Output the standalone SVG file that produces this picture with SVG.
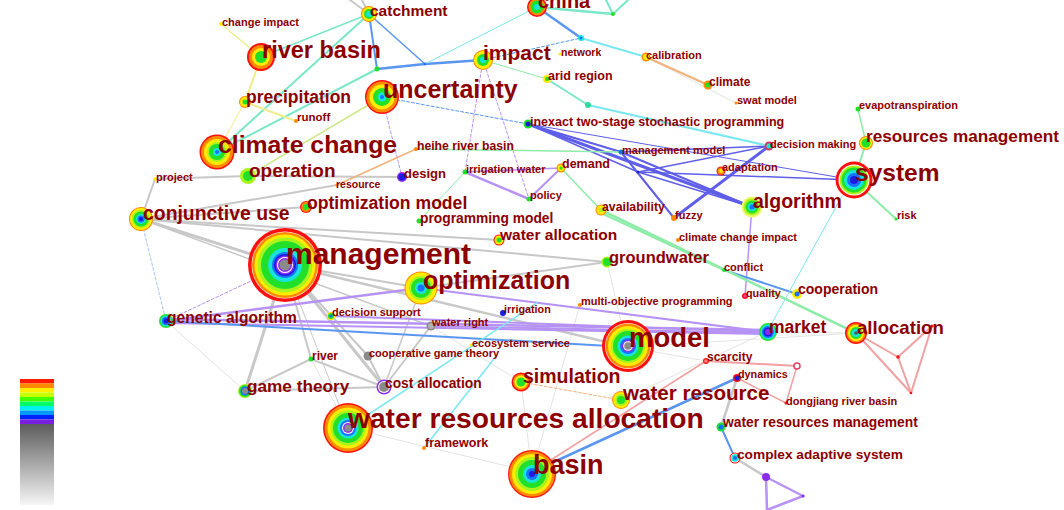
<svg xmlns="http://www.w3.org/2000/svg" width="1064" height="510" viewBox="0 0 1064 510">
<defs>
<style>
.lbl{font-family:"Liberation Sans",Arial,sans-serif;font-weight:bold;fill:#8c0000}
.e{fill:none;stroke-linecap:round}
.g{stroke:#c8c8c8}.p{stroke:#b692f4}.b{stroke:#5a96ef}.v{stroke:#5e5ee9}.c{stroke:#7ae8f0}.gr{stroke:#8eeca8}.tq{stroke:#7ae8c8}.y{stroke:#f0ee8a}.o{stroke:#f2b27a}.pk{stroke:#f2a0a0}.f{stroke:#e4e4e4}.lg{stroke:#cde888}.lb{stroke:#a8c8f4}
.w1{stroke-width:1}.w15{stroke-width:1.5}.w2{stroke-width:2}.w25{stroke-width:2.5}.w3{stroke-width:3}
.d{stroke-dasharray:3 2}
.R{fill:#ff1010}.O{fill:#ff8a00}.Y{fill:#ffec00}.L{fill:#a8f41c}.G{fill:#22e02a}.C{fill:#16e4dc}.B{fill:#1a70ff}.D{fill:#1c1ce0}.P{fill:#8a2cf0}.K{fill:#8a8a8a}.W{fill:#ffffff}.PY{fill:#eef86a}.MR{fill:#d03c6c}.LR{fill:#ff8080}
</style>
<linearGradient id="legendGrey" x1="0" y1="0" x2="0" y2="1">
<stop offset="0" stop-color="#5c5c5c"/>
<stop offset="1" stop-color="#f6f6f6"/>
</linearGradient>
</defs>
<rect width="1064" height="510" fill="#ffffff"/>

<!-- year colour scale -->
<g id="legend">
<rect x="20" y="379" width="34" height="4.5" fill="#ff1a00"/>
<rect x="20" y="383.5" width="34" height="4.5" fill="#ff8800"/>
<rect x="20" y="388" width="34" height="4.5" fill="#ffee00"/>
<rect x="20" y="392.5" width="34" height="4.5" fill="#c8ff00"/>
<rect x="20" y="397" width="34" height="4.5" fill="#44ff00"/>
<rect x="20" y="401.5" width="34" height="4.5" fill="#00ff66"/>
<rect x="20" y="406" width="34" height="4.5" fill="#00f0ee"/>
<rect x="20" y="410.5" width="34" height="4.5" fill="#0099ff"/>
<rect x="20" y="415" width="34" height="4.5" fill="#0022ff"/>
<rect x="20" y="419.5" width="34" height="4.5" fill="#7a1fe0"/>
<rect x="20" y="424" width="34" height="81" fill="url(#legendGrey)"/>
</g>

<g id="connectors">
<!-- faint background links -->
<line class="e lb w1 d" x1="141" y1="219" x2="166" y2="321"/>
<line class="e f w1" x1="627" y1="347" x2="706" y2="361"/>
<line class="e f w1" x1="627" y1="347" x2="856" y2="333"/>
<line class="e f w1" x1="532" y1="472" x2="521" y2="382"/>
<line class="e f w1" x1="348" y1="428" x2="532" y2="472"/>
<line class="e f w1" x1="607" y1="262" x2="627" y2="347"/>
<line class="e f w1" x1="580" y1="305" x2="532" y2="472"/>
<line class="e f w1" x1="311" y1="359" x2="348" y2="428"/>
<line class="e f w1" x1="166" y1="321" x2="245" y2="391"/>
<line class="e f w1" x1="767" y1="332" x2="856" y2="333"/>
<line class="e f w1" x1="646" y1="57" x2="736" y2="103"/>
<line class="e f w1" x1="431" y1="326" x2="521" y2="382"/>
<line class="e f w1" x1="767" y1="332" x2="621" y2="400"/>
<!-- grey -->
<line class="e g w2" x1="350" y1="0" x2="369" y2="14"/>
<line class="e g w2" x1="362" y1="0" x2="369" y2="14"/>
<line class="e g w3" x1="141" y1="219" x2="285" y2="265"/>
<line class="e g w2" x1="141" y1="219" x2="155" y2="179"/>
<line class="e g w2" x1="155" y1="179" x2="248" y2="176"/>
<line class="e g w2" x1="248" y1="176" x2="402" y2="177"/>
<line class="e g w2" x1="141" y1="219" x2="337" y2="185"/>
<line class="e g w2" x1="141" y1="219" x2="306" y2="207"/>
<line class="e g w2" x1="141" y1="219" x2="499" y2="240"/>
<line class="e g w2" x1="141" y1="219" x2="607" y2="262"/>
<line class="e g w15" x1="141" y1="219" x2="431" y2="326"/>
<line class="e g w3" x1="285" y1="265" x2="245" y2="391"/>
<line class="e g w3" x1="285" y1="265" x2="384" y2="387"/>
<line class="e g w2" x1="285" y1="265" x2="311" y2="359"/>
<line class="e g w2" x1="285" y1="265" x2="368" y2="356"/>
<line class="e g w25" x1="285" y1="265" x2="627" y2="347"/>
<line class="e g w1" x1="285" y1="265" x2="348" y2="428"/>
<line class="e g w2" x1="285" y1="265" x2="421" y2="288"/>
<line class="e g w2" x1="421" y1="288" x2="607" y2="262"/>
<line class="e g w2" x1="245" y1="391" x2="384" y2="387"/>
<line class="e g w2" x1="245" y1="391" x2="311" y2="359"/>
<line class="e g w2" x1="311" y1="359" x2="384" y2="387"/>
<line class="e g w2" x1="368" y1="356" x2="384" y2="387"/>
<line class="e g w2" x1="431" y1="326" x2="384" y2="387"/>
<line class="e g w15" x1="384" y1="387" x2="421" y2="288"/>
<line class="e g w25" x1="737" y1="378" x2="721" y2="427"/>
<line class="e g w25" x1="735" y1="458" x2="766" y2="477"/>
<!-- purple -->
<line class="e p w25" x1="166" y1="321" x2="421" y2="288"/>
<line class="e p w25" x1="166" y1="319" x2="767" y2="330"/>
<line class="e p w2" x1="166" y1="323" x2="767" y2="334"/>
<line class="e p w2" x1="331" y1="316" x2="767" y2="332"/>
<line class="e p w2" x1="431" y1="326" x2="767" y2="333"/>
<line class="e p w2" x1="421" y1="288" x2="767" y2="332"/>
<line class="e p w25" x1="465" y1="172" x2="529" y2="199"/>
<line class="e p w2" x1="529" y1="199" x2="561" y2="168"/>
<line class="e p w15" x1="465" y1="172" x2="561" y2="168"/>
<line class="e p w15" x1="752" y1="207" x2="745" y2="296"/>
<line class="e p w1 d" x1="483" y1="60" x2="529" y2="199"/>
<line class="e p w1 d" x1="483" y1="60" x2="465" y2="172"/>
<line class="e p w1 d" x1="382" y1="97" x2="402" y2="177"/>
<line class="e p w1 d" x1="166" y1="321" x2="285" y2="265"/>
<line class="e p w25" x1="766" y1="477" x2="803" y2="496"/>
<line class="e p w25" x1="803" y1="496" x2="767" y2="510"/>
<line class="e p w25" x1="766" y1="477" x2="767" y2="510"/>
<!-- blue -->
<line class="e b w2" x1="166" y1="321" x2="627" y2="347"/>
<line class="e b w2" x1="369" y1="14" x2="377" y2="69"/>
<line class="e b w25" x1="377" y1="69" x2="425" y2="64"/>
<line class="e b w25" x1="425" y1="64" x2="483" y2="60"/>
<line class="e b w15" x1="369" y1="14" x2="425" y2="64"/>
<line class="e c w1" x1="425" y1="64" x2="537" y2="7"/>
<line class="e b w25" x1="537" y1="7" x2="581" y2="38"/>
<line class="e b w1 d" x1="483" y1="60" x2="581" y2="38"/>
<line class="e b w1 d" x1="382" y1="97" x2="528" y2="124"/>
<line class="e b w2" x1="724" y1="270" x2="797" y2="294"/>
<line class="e b w25" x1="532" y1="472" x2="737" y2="378"/>
<line class="e b w2" x1="721" y1="427" x2="735" y2="458"/>
<!-- stochastic programming cluster -->
<line class="e v w3" x1="528" y1="124" x2="752" y2="207"/>
<line class="e v w2" x1="528" y1="124" x2="621" y2="152"/>
<line class="e v w15" x1="528" y1="124" x2="638" y2="172"/>
<line class="e v w1" x1="528" y1="124" x2="854" y2="180"/>
<line class="e v w2" x1="621" y1="152" x2="752" y2="207"/>
<line class="e v w2" x1="621" y1="152" x2="674" y2="218"/>
<line class="e v w15" x1="621" y1="152" x2="769" y2="146"/>
<line class="e v w3" x1="769" y1="146" x2="674" y2="218"/>
<line class="e v w15" x1="638" y1="172" x2="854" y2="180"/>
<line class="e v w15" x1="638" y1="172" x2="769" y2="146"/>
<line class="e v w15" x1="638" y1="172" x2="752" y2="207"/>
<!-- cyan -->
<line class="e c w2" x1="581" y1="38" x2="646" y2="57"/>
<line class="e tq w2" x1="547" y1="79" x2="588" y2="105"/>
<line class="e c w2" x1="588" y1="105" x2="769" y2="146"/>
<line class="e c w15" x1="348" y1="428" x2="537" y2="303"/>
<line class="e c w15" x1="424" y1="448" x2="497" y2="355"/>
<line class="e c w1" x1="767" y1="332" x2="842" y2="196"/>
<!-- green -->
<line class="e tq w2" x1="369" y1="14" x2="217" y2="152"/>
<line class="e tq w2" x1="377" y1="69" x2="217" y2="152"/>
<line class="e tq w15" x1="369" y1="14" x2="261" y2="57"/>
<line class="e lg w15" x1="382" y1="97" x2="248" y2="176"/>
<line class="e gr w15" x1="416" y1="149" x2="621" y2="152"/>
<line class="e gr w1" x1="419" y1="221" x2="465" y2="172"/>
<line class="e gr w15" x1="561" y1="168" x2="601" y2="210"/>
<line class="e gr w25" x1="601" y1="210" x2="856" y2="333"/>
<line class="e gr w2" x1="601" y1="213" x2="724" y2="270"/>
<line class="e gr w2" x1="854" y1="180" x2="866" y2="143"/>
<line class="e gr w15" x1="866" y1="143" x2="858" y2="109"/>
<line class="e gr w2" x1="854" y1="180" x2="896" y2="219"/>
<line class="e tq w25" x1="537" y1="7" x2="613" y2="14"/>
<line class="e tq w2" x1="613" y1="14" x2="606" y2="0"/>
<line class="e tq w2" x1="613" y1="14" x2="628" y2="0"/>
<line class="e gr w1" x1="483" y1="60" x2="547" y2="79"/>
<!-- yellow / orange -->
<line class="e y w15" x1="221" y1="24" x2="261" y2="57"/>
<line class="e y w2" x1="261" y1="57" x2="245" y2="102"/>
<line class="e y w2" x1="245" y1="102" x2="296" y2="121"/>
<line class="e y w1" x1="245" y1="102" x2="217" y2="152"/>
<line class="e o w2" x1="646" y1="57" x2="708" y2="85"/>
<line class="e o w15" x1="416" y1="149" x2="337" y2="185"/>
<line class="e o w1 d" x1="621" y1="400" x2="521" y2="382"/>
<!-- red -->
<line class="e pk w15" x1="532" y1="472" x2="706" y2="361"/>
<line class="e pk w2" x1="706" y1="361" x2="797" y2="366"/>
<line class="e pk w15" x1="797" y1="366" x2="786" y2="403"/>
<line class="e pk w15" x1="737" y1="378" x2="786" y2="403"/>
<line class="e pk w2" x1="856" y1="333" x2="898" y2="357"/>
<line class="e pk w2" x1="898" y1="357" x2="932" y2="326"/>
<line class="e pk w2" x1="856" y1="333" x2="911" y2="393"/>
<line class="e pk w2" x1="898" y1="357" x2="911" y2="393"/>
<line class="e pk w2" x1="932" y1="326" x2="911" y2="393"/>
</g>

<!-- junction nodes without labels -->
<g id="n-j1"><circle class="G" cx="377" cy="69" r="2.5"/></g>
<g id="n-j2"><circle class="B" cx="425" cy="64" r="1.3"/></g>
<g id="n-j3"><circle class="C" cx="581" cy="38" r="3"/><circle class="B" cx="581" cy="38" r="1.3"/></g>
<g id="n-j4"><circle fill="#30d8a0" cx="588" cy="105" r="3"/></g>
<g id="n-j5"><circle class="G" cx="613" cy="14" r="2"/></g>
<g id="n-j6"><circle class="D" cx="638" cy="172" r="1.5"/></g>
<g id="n-j7"><circle class="R" cx="898" cy="357" r="1.8"/></g>
<g id="n-j8"><circle class="R" cx="932" cy="326" r="1.5"/></g>
<g id="n-j9"><circle class="R" cx="911" cy="393" r="1.3"/></g>
<g id="n-j10"><circle fill="#ffffff" stroke="#e04060" stroke-width="1.5" cx="797" cy="366" r="3"/></g>
<g id="n-j11"><circle class="P" cx="766" cy="477" r="4"/></g>
<g id="n-j12"><circle class="P" cx="803" cy="496" r="1.6"/></g>

<!-- small keyword nodes -->
<g id="n-change-impact"><circle class="Y" cx="221" cy="24" r="2"/><text class="lbl" x="222" y="26" font-size="11">change impact</text></g>
<g id="n-runoff"><circle class="O" cx="296" cy="121" r="2"/><text class="lbl" x="297" y="121" font-size="11.5">runoff</text></g>
<g id="n-project"><circle class="Y" cx="155" cy="179" r="1.8"/><text class="lbl" x="156" y="181" font-size="11">project</text></g>
<g id="n-resource"><circle class="O" cx="337" cy="185" r="1.5"/><text class="lbl" x="336" y="188" font-size="10.5">resource</text></g>
<g id="n-network"><circle class="Y" cx="560" cy="54" r="1.5"/><text class="lbl" x="561" y="56" font-size="10.5">network</text></g>
<g id="n-calibration"><circle class="O" cx="646" cy="57" r="4.5"/><circle class="Y" cx="646" cy="57" r="3"/><text class="lbl" x="646" y="59" font-size="11">calibration</text></g>
<g id="n-arid-region"><circle class="Y" cx="547" cy="79" r="4"/><circle class="G" cx="547" cy="79" r="2"/><text class="lbl" x="548" y="80" font-size="12.5">arid region</text></g>
<g id="n-climate"><circle class="O" cx="708" cy="85" r="4.5"/><circle class="G" cx="708" cy="85" r="2.5"/><text class="lbl" x="709" y="86" font-size="12">climate</text></g>
<g id="n-swat-model"><circle class="O" cx="736" cy="103" r="1.5"/><text class="lbl" x="737" y="104" font-size="11">swat model</text></g>
<g id="n-evapotranspiration"><circle class="G" cx="858" cy="109" r="2.5"/><text class="lbl" x="859" y="109" font-size="11">evapotranspiration</text></g>
<g id="n-inexact"><circle class="G" cx="528" cy="124" r="4.5"/><circle class="D" cx="528" cy="124" r="2.5"/><text class="lbl" x="530" y="126" font-size="12.5">inexact two-stage stochastic programming</text></g>
<g id="n-heihe-river-basin"><circle class="O" cx="416" cy="149" r="2"/><text class="lbl" x="417" y="150" font-size="12.2">heihe river basin</text></g>
<g id="n-management-model"><circle class="B" cx="621" cy="152" r="2.5"/><text class="lbl" x="622" y="154" font-size="11">management model</text></g>
<g id="n-decision-making"><circle class="MR" cx="769" cy="146" r="4.5"/><circle class="C" cx="769" cy="146" r="2.5"/><text class="lbl" x="770" y="148" font-size="11">decision making</text></g>
<g id="n-adaptation"><circle class="R" cx="721" cy="171" r="4.5"/><circle class="O" cx="721" cy="171" r="3.5"/><circle class="Y" cx="721" cy="171" r="2"/><text class="lbl" x="722" y="171" font-size="11">adaptation</text></g>
<g id="n-design"><circle class="P" cx="402" cy="177" r="5"/><circle class="D" cx="402" cy="177" r="3.5"/><text class="lbl" x="404" y="178" font-size="13">design</text></g>
<g id="n-irrigation-water"><circle class="G" cx="465" cy="172" r="2.5"/><text class="lbl" x="466" y="173" font-size="11">irrigation water</text></g>
<g id="n-demand"><circle class="O" cx="561" cy="168" r="4.5"/><circle class="Y" cx="561" cy="168" r="3.3"/><circle class="G" cx="561" cy="168" r="1.6"/><text class="lbl" x="562" y="168" font-size="12.5">demand</text></g>
<g id="n-policy"><circle class="G" cx="529" cy="199" r="2.5"/><text class="lbl" x="530" y="199" font-size="11">policy</text></g>
<g id="n-availability"><circle class="O" cx="601" cy="210" r="5.5"/><circle class="Y" cx="601" cy="210" r="4.5"/><circle class="L" cx="601" cy="210" r="2.3"/><text class="lbl" x="602" y="211" font-size="12.3">availability</text></g>
<g id="n-fuzzy"><circle class="O" cx="674" cy="218" r="3"/><text class="lbl" x="675" y="219" font-size="11">fuzzy</text></g>
<g id="n-programming-model"><circle class="G" cx="419" cy="221" r="2.5"/><text class="lbl" x="420" y="223" font-size="13.8">programming model</text></g>
<g id="n-climate-change-impact"><circle class="O" cx="678" cy="240" r="2"/><text class="lbl" x="679" y="241" font-size="11">climate change impact</text></g>
<g id="n-risk"><circle class="G" cx="896" cy="219" r="1.5"/><text class="lbl" x="897" y="219" font-size="11">risk</text></g>
<g id="n-conflict"><circle class="G" cx="724" cy="270" r="2"/><text class="lbl" x="724" y="271" font-size="11">conflict</text></g>
<g id="n-quality"><circle class="R" cx="745" cy="296" r="3"/><circle fill="#ff40a0" cx="745" cy="296" r="1.5"/><text class="lbl" x="746" y="297" font-size="10.8">quality</text></g>
<g id="n-cooperation"><circle class="Y" cx="797" cy="294" r="5"/><circle class="B" cx="797" cy="294" r="2.5"/><text class="lbl" x="798" y="294" font-size="14">cooperation</text></g>
<g id="n-multi-objective"><circle class="O" cx="580" cy="305" r="2"/><text class="lbl" x="581" y="305" font-size="11">multi-objective programming</text></g>
<g id="n-irrigation"><circle class="D" cx="503" cy="313" r="3"/><text class="lbl" x="504" y="313" font-size="10.8">irrigation</text></g>
<g id="n-water-right"><circle class="K" cx="431" cy="326" r="4.5"/><circle fill="#b0b0b0" cx="431" cy="326" r="3"/><text class="lbl" x="432" y="326" font-size="11">water right</text></g>
<g id="n-decision-support"><circle class="Y" cx="331" cy="316" r="4"/><circle class="G" cx="331" cy="316" r="3"/><circle class="B" cx="331" cy="316" r="1.5"/><text class="lbl" x="332" y="316" font-size="11">decision support</text></g>
<g id="n-ecosystem-service"><circle class="Y" cx="471" cy="345" r="1.5"/><text class="lbl" x="472" y="347" font-size="11">ecosystem service</text></g>
<g id="n-cooperative-game-theory"><circle class="K" cx="368" cy="356" r="4.5"/><text class="lbl" x="369" y="357" font-size="11">cooperative game theory</text></g>
<g id="n-river"><circle class="G" cx="311" cy="359" r="2.5"/><text class="lbl" x="312" y="360" font-size="12">river</text></g>
<g id="n-framework"><circle class="O" cx="424" cy="448" r="2"/><text class="lbl" x="425" y="447" font-size="12.5">framework</text></g>
<g id="n-scarcity"><circle class="R" cx="706" cy="361" r="3"/><circle class="LR" cx="706" cy="361" r="1.8"/><text class="lbl" x="707" y="361" font-size="12">scarcity</text></g>
<g id="n-dynamics"><circle class="R" cx="737" cy="378" r="4"/><circle class="D" cx="737" cy="378" r="2.5"/><text class="lbl" x="738" y="378" font-size="10.8">dynamics</text></g>
<g id="n-dongjiang"><circle class="R" cx="786" cy="403" r="1.5"/><text class="lbl" x="786" y="405" font-size="11">dongjiang river basin</text></g>
<g id="n-water-resources-management"><circle class="G" cx="721" cy="427" r="4.5"/><circle class="B" cx="721" cy="427" r="2.5"/><text class="lbl" x="723" y="427" font-size="13.8">water resources management</text></g>
<g id="n-complex-adaptive-system"><circle class="R" cx="735" cy="458" r="5.5"/><circle class="W" cx="735" cy="458" r="4.5"/><circle class="C" cx="735" cy="458" r="3.8"/><circle class="B" cx="735" cy="458" r="2"/><text class="lbl" x="737" y="459" font-size="13.7">complex adaptive system</text></g>

<!-- mid-size keyword nodes -->
<g id="n-catchment"><circle class="O" cx="369" cy="14" r="8"/><circle class="Y" cx="369" cy="14" r="7"/><circle class="G" cx="369" cy="14" r="5"/><circle class="C" cx="369" cy="14" r="3"/><text class="lbl" x="370" y="16" font-size="15.5">catchment</text></g>
<g id="n-china"><circle class="R" cx="537" cy="7" r="10"/><circle class="O" cx="537" cy="7" r="8.5"/><circle class="G" cx="537" cy="7" r="6.5"/><circle class="C" cx="537" cy="7" r="3"/><text class="lbl" x="538" y="8" font-size="20">china</text></g>
<g id="n-precipitation"><circle class="O" cx="245" cy="102" r="6"/><circle class="Y" cx="245" cy="102" r="5"/><circle class="G" cx="245" cy="102" r="2.5"/><text class="lbl" x="246" y="103" font-size="17.5">precipitation</text></g>
<g id="n-operation"><circle class="L" cx="248" cy="176" r="8"/><circle class="G" cx="248" cy="176" r="5"/><text class="lbl" x="249" y="177" font-size="19">operation</text></g>
<g id="n-optimization-model"><circle class="R" cx="306" cy="207" r="6"/><circle class="O" cx="306" cy="207" r="5"/><circle class="G" cx="306" cy="207" r="3"/><text class="lbl" x="307" y="209" font-size="17.6">optimization model</text></g>
<g id="n-resources-management"><circle class="O" cx="866" cy="143" r="7"/><circle class="Y" cx="866" cy="143" r="6"/><circle class="G" cx="866" cy="143" r="4.5"/><text class="lbl" x="866" y="142" font-size="17.2">resources management</text></g>
<g id="n-water-allocation"><circle class="R" cx="499" cy="240" r="5.5"/><circle class="Y" cx="499" cy="240" r="4.5"/><circle class="G" cx="499" cy="240" r="2.5"/><text class="lbl" x="500" y="240" font-size="15.5">water allocation</text></g>
<g id="n-groundwater"><circle class="L" cx="607" cy="262" r="5.5"/><circle class="G" cx="607" cy="262" r="4"/><text class="lbl" x="609" y="263" font-size="16.5">groundwater</text></g>
<g id="n-genetic-algorithm"><circle class="G" cx="166" cy="321" r="7"/><circle class="C" cx="166" cy="321" r="5.5"/><circle class="B" cx="166" cy="321" r="4"/><circle class="D" cx="166" cy="321" r="2.5"/><text class="lbl" x="167" y="323" font-size="15.6">genetic algorithm</text></g>
<g id="n-game-theory"><circle class="L" cx="245" cy="391" r="7"/><circle class="G" cx="245" cy="391" r="6"/><circle class="B" cx="245" cy="391" r="4.5"/><circle class="K" cx="245" cy="391" r="3"/><text class="lbl" x="247" y="392" font-size="17.2">game theory</text></g>
<g id="n-cost-allocation"><circle class="P" cx="384" cy="387" r="7.5"/><circle class="W" cx="384" cy="387" r="6"/><circle class="K" cx="384" cy="387" r="5"/><text class="lbl" x="385" y="388" font-size="13.8">cost allocation</text></g>
<g id="n-market"><circle class="G" cx="768" cy="332" r="9"/><circle class="C" cx="768" cy="332" r="7.5"/><circle class="B" cx="768" cy="332" r="6"/><circle class="D" cx="768" cy="332" r="4.5"/><circle class="P" cx="768" cy="332" r="3"/><text class="lbl" x="769" y="333" font-size="17.5">market</text></g>
<g id="n-simulation"><circle class="R" cx="521" cy="382" r="9.5"/><circle class="O" cx="521" cy="382" r="8"/><circle class="Y" cx="521" cy="382" r="6.5"/><circle class="G" cx="521" cy="382" r="4.5"/><text class="lbl" x="523" y="383" font-size="19.5">simulation</text></g>
<g id="n-water-resource"><circle class="O" cx="621" cy="400" r="9"/><circle class="Y" cx="621" cy="400" r="8"/><circle class="L" cx="621" cy="400" r="6"/><circle class="G" cx="621" cy="400" r="4"/><text class="lbl" x="623" y="400" font-size="20.6">water resource</text></g>
<g id="n-allocation"><circle class="R" cx="856" cy="333" r="11"/><circle class="O" cx="856" cy="333" r="9.5"/><circle class="Y" cx="856" cy="333" r="8"/><circle class="G" cx="856" cy="333" r="6"/><circle class="C" cx="856" cy="333" r="4"/><circle fill="#555" cx="856" cy="333" r="1.8"/><text class="lbl" x="857" y="334" font-size="18.6">allocation</text></g>
<g id="n-algorithm"><circle class="PY" cx="752" cy="207" r="10.5"/><circle class="L" cx="752" cy="207" r="8.5"/><circle class="G" cx="752" cy="207" r="6.5"/><circle class="C" cx="752" cy="207" r="4"/><circle class="B" cx="752" cy="207" r="2.5"/><text class="lbl" x="753" y="208" font-size="19.5">algorithm</text></g>
<g id="n-impact"><circle class="O" cx="483" cy="60" r="10"/><circle class="Y" cx="483" cy="60" r="9"/><circle class="G" cx="483" cy="60" r="6"/><circle class="C" cx="483" cy="60" r="3"/><text class="lbl" x="483" y="60" font-size="21">impact</text></g>
<g id="n-conjunctive-use"><circle class="O" cx="141" cy="219" r="12"/><circle class="Y" cx="141" cy="219" r="11"/><circle class="L" cx="141" cy="219" r="9"/><circle class="G" cx="141" cy="219" r="7.5"/><circle class="C" cx="141" cy="219" r="5"/><circle class="B" cx="141" cy="219" r="3.5"/><circle class="D" cx="141" cy="219" r="2"/><text class="lbl" x="143" y="220" font-size="19.4">conjunctive use</text></g>

<!-- large keyword nodes -->
<g id="n-river-basin"><circle class="R" cx="261" cy="57" r="14"/><circle class="O" cx="261" cy="57" r="12"/><circle class="Y" cx="261" cy="57" r="9"/><circle class="G" cx="261" cy="57" r="6"/><text class="lbl" x="262" y="58" font-size="23.5">river basin</text></g>
<g id="n-uncertainty"><circle class="R" cx="382" cy="97" r="17"/><circle class="O" cx="382" cy="97" r="15.5"/><circle class="Y" cx="382" cy="97" r="12.5"/><circle class="G" cx="382" cy="97" r="9"/><circle class="C" cx="382" cy="97" r="4.5"/><circle class="B" cx="382" cy="97" r="2"/><text class="lbl" x="383" y="98" font-size="25">uncertainty</text></g>
<g id="n-climate-change"><circle class="R" cx="217" cy="152" r="17.5"/><circle class="O" cx="217" cy="152" r="16"/><circle class="Y" cx="217" cy="152" r="13"/><circle class="L" cx="217" cy="152" r="10"/><circle class="G" cx="217" cy="152" r="8"/><circle class="C" cx="217" cy="152" r="4"/><circle class="B" cx="217" cy="152" r="2"/><text class="lbl" x="218" y="153" font-size="24.8">climate change</text></g>
<g id="n-system"><circle class="R" cx="854" cy="180" r="18.5"/><circle class="W" cx="854" cy="180" r="15.5"/><circle class="L" cx="854" cy="180" r="14.5"/><circle class="G" cx="854" cy="180" r="12.5"/><circle class="C" cx="854" cy="180" r="10"/><circle class="B" cx="854" cy="180" r="7"/><circle class="D" cx="854" cy="180" r="4"/><text class="lbl" x="855" y="181" font-size="24.5">system</text></g>
<g id="n-optimization"><circle class="O" cx="421" cy="288" r="16.5"/><circle class="Y" cx="421" cy="288" r="15.5"/><circle class="L" cx="421" cy="288" r="12"/><circle class="G" cx="421" cy="288" r="10"/><circle class="C" cx="421" cy="288" r="6"/><circle class="B" cx="421" cy="288" r="3.5"/><text class="lbl" x="423" y="289" font-size="25">optimization</text></g>
<g id="n-management"><circle class="R" cx="285" cy="265" r="37"/><circle class="W" cx="285" cy="265" r="33.5"/><circle class="O" cx="285" cy="265" r="33"/><circle class="Y" cx="285" cy="265" r="30.5"/><circle class="L" cx="285" cy="265" r="27.5"/><circle class="G" cx="285" cy="265" r="24"/><circle class="C" cx="285" cy="265" r="17"/><circle class="B" cx="285" cy="265" r="13"/><circle class="D" cx="285" cy="265" r="11"/><circle class="P" cx="285" cy="265" r="9.5"/><circle class="W" cx="285" cy="265" r="8"/><circle class="P" cx="285" cy="265" r="7"/><circle class="K" cx="285" cy="265" r="5.5"/><text class="lbl" x="286" y="264" font-size="30">management</text></g>
<g id="n-water-resources-allocation"><circle class="R" cx="348" cy="428" r="25"/><circle class="O" cx="348" cy="428" r="23.5"/><circle class="Y" cx="348" cy="428" r="20.5"/><circle class="L" cx="348" cy="428" r="17.5"/><circle class="G" cx="348" cy="428" r="15"/><circle class="C" cx="348" cy="428" r="10.5"/><circle class="B" cx="348" cy="428" r="8"/><circle class="W" cx="348" cy="428" r="6"/><circle class="P" cx="348" cy="428" r="5"/><circle class="K" cx="348" cy="428" r="3.5"/><text class="lbl" x="348" y="428" font-size="28.2">water resources allocation</text></g>
<g id="n-model"><circle class="R" cx="628" cy="346" r="26"/><circle class="W" cx="628" cy="346" r="23"/><circle class="O" cx="628" cy="346" r="22.5"/><circle class="Y" cx="628" cy="346" r="20"/><circle class="L" cx="628" cy="346" r="17"/><circle class="G" cx="628" cy="346" r="15"/><circle class="C" cx="628" cy="346" r="10.5"/><circle class="B" cx="628" cy="346" r="8"/><circle class="P" cx="628" cy="346" r="6"/><circle class="W" cx="628" cy="346" r="4.8"/><circle class="K" cx="628" cy="346" r="3.8"/><text class="lbl" x="629" y="347" font-size="27.5">model</text></g>
<g id="n-basin"><circle class="R" cx="532" cy="474" r="24"/><circle class="O" cx="532" cy="474" r="22.8"/><circle class="Y" cx="532" cy="474" r="20"/><circle class="L" cx="532" cy="474" r="17"/><circle class="G" cx="532" cy="474" r="14"/><circle class="C" cx="532" cy="474" r="9"/><circle class="B" cx="532" cy="474" r="6"/><circle class="D" cx="532" cy="474" r="3"/><text class="lbl" x="533" y="474" font-size="27">basin</text></g>
</svg>
